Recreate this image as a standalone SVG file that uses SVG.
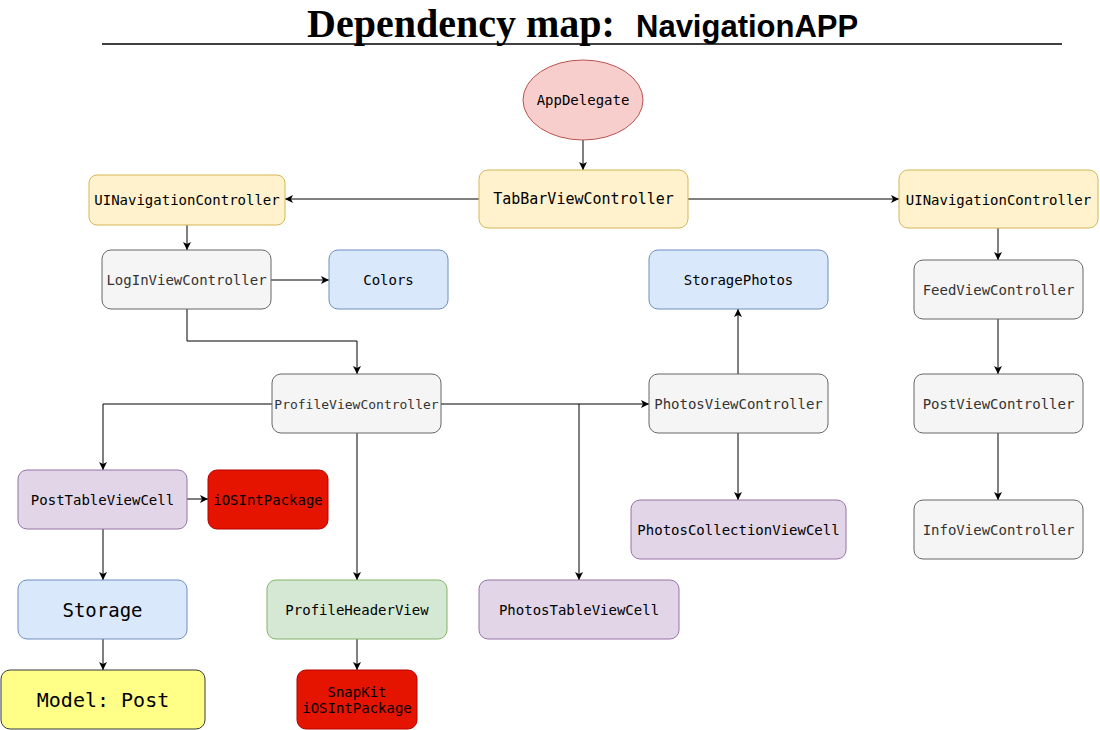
<svg xmlns="http://www.w3.org/2000/svg" width="1100" height="730" viewBox="0 0 1100 730">
<defs>
<marker id="arr" viewBox="0 0 10 10" refX="10" refY="5" markerWidth="8" markerHeight="8" markerUnits="userSpaceOnUse" orient="auto">
<path d="M0,0 L10,5 L0,10 L2.5,5 Z" fill="#000"/>
</marker>
<style>
text{font-family:"DejaVu Sans Mono","Liberation Mono",monospace;text-anchor:middle;dominant-baseline:central;fill:#000}
.yel{fill:#fff2cc;stroke:#d6b656}
.gry{fill:#f5f5f5;stroke:#666666}
.gry + text{fill:#333333}
.blu{fill:#dae8fc;stroke:#6c8ebf}
.pur{fill:#e1d5e7;stroke:#9673a6}
.red{fill:#e51400;stroke:#b20000}
.grn{fill:#d5e8d4;stroke:#82b366}
.note{fill:#ffff88;stroke:#36393d}
.f14{font-size:14px}
.f13{font-size:13px}
.f15{font-size:15px}
.c line,.c path{stroke:#000;stroke-width:1;fill:none}
</style>
</defs>
<rect width="1100" height="730" fill="#fff"/>
<g id="title">
<text x="307" y="37" style="font-family:'Liberation Serif','Times New Roman',serif;font-weight:bold;font-size:40px;text-anchor:start;dominant-baseline:alphabetic">Dependency map:</text>
<text x="636" y="37" style="font-family:'Liberation Sans',Arial,sans-serif;font-weight:bold;font-size:31px;text-anchor:start;dominant-baseline:alphabetic">NavigationAPP</text>
<line x1="102" y1="44" x2="1062" y2="44" stroke="#000" stroke-width="1.5"/>
</g>
<g class="c" id="connectors">
<line x1="583" y1="140" x2="583" y2="170" marker-end="url(#arr)"/>
<line x1="479" y1="199" x2="285" y2="199" marker-end="url(#arr)"/>
<line x1="688" y1="199" x2="899" y2="199" marker-end="url(#arr)"/>
<line x1="187" y1="225" x2="187" y2="250" marker-end="url(#arr)"/>
<line x1="271" y1="280" x2="329" y2="280" marker-end="url(#arr)"/>
<path d="M187,309 V341 H357 V374" marker-end="url(#arr)"/>
<path d="M272,404 H103 V470" marker-end="url(#arr)"/>
<line x1="441" y1="404" x2="649" y2="404" marker-end="url(#arr)"/>
<path d="M579,404 V580" marker-end="url(#arr)"/>
<line x1="357" y1="433" x2="357" y2="580" marker-end="url(#arr)"/>
<line x1="187" y1="499" x2="208" y2="499" marker-end="url(#arr)"/>
<line x1="103" y1="529" x2="103" y2="580" marker-end="url(#arr)"/>
<line x1="103" y1="639" x2="103" y2="670" marker-end="url(#arr)"/>
<line x1="357" y1="639" x2="357" y2="670" marker-end="url(#arr)"/>
<line x1="738" y1="374" x2="738" y2="309" marker-end="url(#arr)"/>
<line x1="738" y1="433" x2="738" y2="500" marker-end="url(#arr)"/>
<line x1="998" y1="228" x2="998" y2="260" marker-end="url(#arr)"/>
<line x1="998" y1="319" x2="998" y2="374" marker-end="url(#arr)"/>
<line x1="998" y1="433" x2="998" y2="500" marker-end="url(#arr)"/>
</g>
<g id="appDelegate">
<ellipse cx="583" cy="100" rx="60" ry="40" fill="#f8cecc" stroke="#b85450"/>
<text x="583" y="100" class="f14">AppDelegate</text>
</g>
<g id="tabBar">
<rect x="479" y="170" width="209" height="58" rx="9" class="yel"/>
<text x="583.5" y="199" class="f15">TabBarViewController</text>
</g>
<g id="navLeft">
<rect x="89" y="175" width="196" height="50" rx="8" class="yel"/>
<text x="187" y="200" class="f14">UINavigationController</text>
</g>
<g id="navRight">
<rect x="899" y="170" width="199" height="58" rx="9" class="yel"/>
<text x="998.5" y="200" class="f14">UINavigationController</text>
</g>
<g id="login">
<rect x="102" y="250" width="169" height="59" rx="9" class="gry"/>
<text x="186.5" y="280" class="f14">LogInViewController</text>
</g>
<g id="colors">
<rect x="329" y="250" width="119" height="59" rx="9" class="blu"/>
<text x="388.5" y="280" class="f14">Colors</text>
</g>
<g id="storagePhotos">
<rect x="649" y="250" width="179" height="59" rx="9" class="blu"/>
<text x="738.5" y="280" class="f14">StoragePhotos</text>
</g>
<g id="feed">
<rect x="914" y="260" width="169" height="59" rx="9" class="gry"/>
<text x="998.5" y="290" class="f14">FeedViewController</text>
</g>
<g id="profile">
<rect x="272" y="374" width="169" height="59" rx="9" class="gry"/>
<text x="356.5" y="404" class="f13">ProfileViewController</text>
</g>
<g id="photosVC">
<rect x="649" y="374" width="179" height="59" rx="9" class="gry"/>
<text x="738.5" y="404" class="f14">PhotosViewController</text>
</g>
<g id="postVC">
<rect x="914" y="374" width="169" height="59" rx="9" class="gry"/>
<text x="998.5" y="404" class="f14">PostViewController</text>
</g>
<g id="postCell">
<rect x="18" y="470" width="169" height="59" rx="9" class="pur"/>
<text x="102.5" y="500" class="f14">PostTableViewCell</text>
</g>
<g id="iosPkg">
<rect x="208" y="470" width="120" height="59" rx="9" class="red"/>
<text x="268" y="500" class="f14">iOSIntPackage</text>
</g>
<g id="photosCollCell">
<rect x="631" y="500" width="215" height="59" rx="9" class="pur"/>
<text x="738.5" y="530" class="f14">PhotosCollectionViewCell</text>
</g>
<g id="info">
<rect x="914" y="500" width="169" height="59" rx="9" class="gry"/>
<text x="998.5" y="530" class="f14">InfoViewController</text>
</g>
<g id="storage">
<rect x="18" y="580" width="169" height="59" rx="9" class="blu"/>
<text x="102.5" y="610" style="font-size:19px">Storage</text>
</g>
<g id="header">
<rect x="267" y="580" width="180" height="59" rx="9" class="grn"/>
<text x="357" y="610" class="f14">ProfileHeaderView</text>
</g>
<g id="photosTableCell">
<rect x="479" y="580" width="200" height="59" rx="9" class="pur"/>
<text x="579" y="610" class="f14">PhotosTableViewCell</text>
</g>
<g id="model">
<rect x="1" y="670" width="204" height="59" rx="9" class="note"/>
<text x="103" y="700" style="font-size:20px">Model: Post</text>
</g>
<g id="snapkit">
<rect x="297" y="670" width="120" height="59" rx="9" class="red"/>
<text x="357" y="692" class="f14">SnapKit</text>
<text x="357" y="708" class="f14">iOSIntPackage</text>
</g>
</svg>
